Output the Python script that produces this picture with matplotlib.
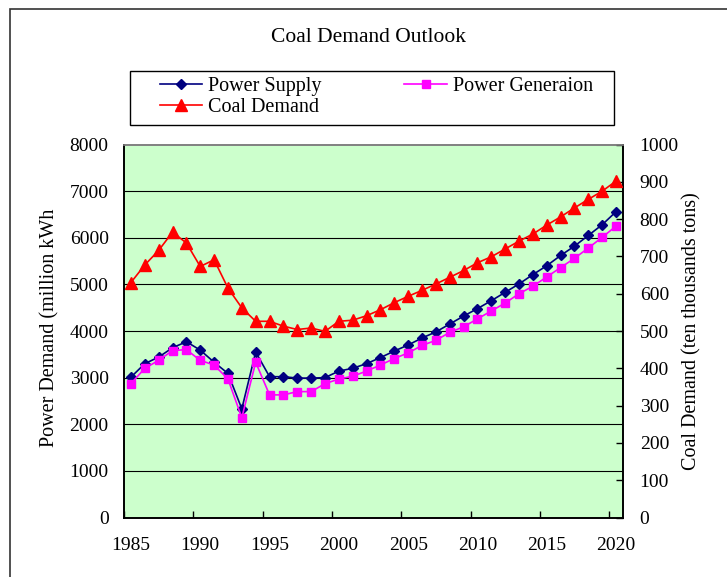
'''
Coal Demand Outlook - power demand vs coal demand
'''

# Imports
import numpy as np
import matplotlib
matplotlib.use('Agg')
import matplotlib.pyplot as plt

# Data
years = list(range(1985, 2021))

powerSupply = [3010, 3300, 3440, 3640, 3770, 3590, 3330, 3090, 2330, 3550,
               3020, 3020, 2990, 2990, 3000, 3140, 3200, 3300, 3430, 3570,
               3700, 3850, 3980, 4150, 4320, 4480, 4650, 4830, 5010, 5210,
               5400, 5620, 5820, 6050, 6280, 6560]

powerGeneration = [2870, 3200, 3370, 3580, 3600, 3370, 3270, 2970, 2140, 3330,
                   2630, 2630, 2700, 2700, 2870, 2970, 3030, 3140, 3270, 3410,
                   3530, 3690, 3800, 3970, 4090, 4260, 4430, 4600, 4800, 4960,
                   5160, 5360, 5560, 5780, 6010, 6250]

coalDemand = [630, 677, 716, 765, 736, 673, 691, 615, 562, 526,
              526, 513, 504, 508, 499, 526, 529, 541, 557, 576,
              593, 609, 626, 644, 662, 683, 699, 720, 741, 760,
              784, 806, 830, 853, 875, 902]

leftTicks = list(range(0, 8001, 1000))
rightTicks = list(range(0, 1001, 100))
xLabelYears = list(range(1985, 2021, 5))

# Style
plt.rcParams['font.family'] = ['Liberation Serif', 'DejaVu Serif']
tickSize = 14
labelSize = 14.5

# Figure
W, H = 727, 577
fig = plt.figure(figsize=(W / 100, H / 100), dpi=100)
ax = fig.add_axes([124 / W, 1 - 517.5 / H, (623 - 124) / W, (517.5 - 144.5) / H])
ax2 = ax.twinx()

ax.set_facecolor('#CCFFCC')
ax.set_zorder(0)
ax2.set_zorder(1)
ax2.patch.set_visible(False)

# Gridlines
for v in leftTicks[1:-1]:
    ax.axhline(v, color='black', lw=0.8, zorder=1)

# Series
lPS, = ax.plot(years, powerSupply, color='#000080', lw=1.2, marker='D', ms=5.5, zorder=3,
               label='Power Supply')
lPG, = ax.plot(years, powerGeneration, color='#FF00FF', lw=1.2, marker='s', ms=6, zorder=4,
               label='Power Generaion')
lCD, = ax2.plot(years, coalDemand, color='#FF0000', lw=1.2, marker='^', ms=8.5, zorder=3,
                label='Coal Demand')

# Axes
ax.set_xlim(1984.5, 2020.5)
ax.set_ylim(0, 8000)
ax2.set_ylim(0, 1000)

ax.set_yticks(leftTicks)
ax.set_yticklabels([str(v) for v in leftTicks], fontsize=tickSize)
ax.tick_params(axis='y', length=0, pad=11)

ax2.set_yticks(rightTicks)
ax2.set_yticklabels([str(v) for v in rightTicks], fontsize=tickSize)
ax2.tick_params(axis='y', direction='in', length=5, width=1, pad=12)

ax.set_xticks(xLabelYears)
ax.set_xticklabels([str(v) for v in xLabelYears], fontsize=tickSize)
ax.set_xticks([y - 0.5 for y in xLabelYears], minor=True)
ax.tick_params(axis='x', which='major', length=0, pad=14)
ax.tick_params(axis='x', which='minor', direction='in', length=5, width=1)
ax2.tick_params(axis='x', which='both', length=0)

for a in (ax, ax2):
    for s in ('left', 'right', 'bottom'):
        a.spines[s].set_color('black')
        a.spines[s].set_linewidth(1.2)
    a.spines['top'].set_color('#808080')
    a.spines['top'].set_linewidth(1.2)

# Labels
fig.text(368 / W, 1 - 38 / H, 'Coal Demand Outlook', ha='center', va='center', fontsize=15.5)
fig.text(50 / W, 1 - 328 / H, 'Power Demand (million kWh', rotation=90,
         ha='center', va='center', fontsize=labelSize)
fig.text(692 / W, 1 - 331 / H, 'Coal Demand (ten thousands tons)', rotation=90,
         ha='center', va='center', fontsize=labelSize)

# Legend (frame drawn separately so the padding matches)
fig.add_artist(plt.Rectangle((130 / W, 1 - 125 / H), (614 - 130) / W, (125 - 71) / H,
                             transform=fig.transFigure, facecolor='white',
                             edgecolor='black', lw=1))
leg = fig.legend([lPS, lCD, lPG], ['Power Supply', 'Coal Demand', 'Power Generaion'],
                 ncol=2, loc='upper left',
                 bbox_to_anchor=(160 / W, 1 - 77 / H),
                 bbox_transform=fig.transFigure, frameon=False,
                 fontsize=labelSize, handlelength=2.1, handletextpad=0.3,
                 columnspacing=4.1, borderpad=0, labelspacing=0.1, borderaxespad=0)

# Outer border
fig.add_artist(plt.Rectangle((10 / W, -0.1), 1.2, 1.1 - 9 / H, transform=fig.transFigure,
                             fill=False, edgecolor='#333333', lw=1.2, clip_on=False))

fig.savefig('out.png', dpi=100)
